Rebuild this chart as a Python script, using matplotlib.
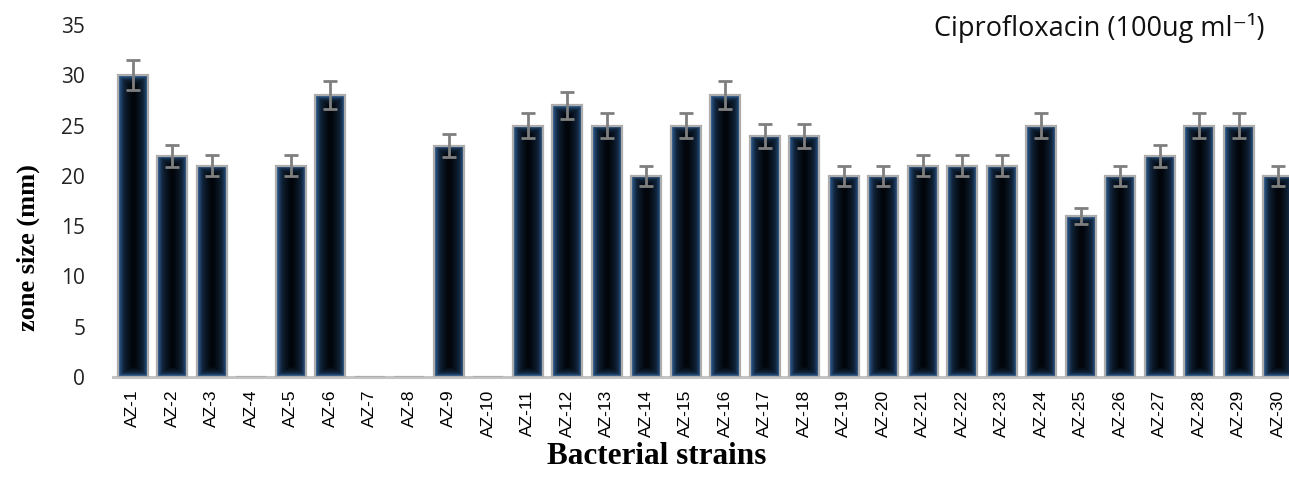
import numpy as np
import matplotlib
matplotlib.use("Agg")
import matplotlib.pyplot as plt
from matplotlib.colors import LinearSegmentedColormap

strains = ["AZ-%d" % i for i in range(1, 31)]
zone_size = [30, 22, 21, 0, 21, 28, 0, 0, 23, 0,
             25, 27, 25, 20, 25, 28, 24, 24, 20, 20,
             21, 21, 21, 25, 16, 20, 22, 25, 25, 20]
zone_err = [1.5, 1.1, 1.05, 0, 1.05, 1.4, 0, 0, 1.15, 0,
            1.25, 1.35, 1.25, 1.0, 1.25, 1.4, 1.2, 1.2, 1.0, 1.0,
            1.05, 1.05, 1.05, 1.25, 0.8, 1.0, 1.1, 1.25, 1.25, 1.0]
yticks = [0, 5, 10, 15, 20, 25, 30, 35]

W, H = 1289, 490
fig = plt.figure(figsize=(W / 100, H / 100), dpi=100)
ax = fig.add_axes([113 / W, (H - 377) / H, (1298 - 113) / W, (377 - 25) / H])

x = np.arange(len(strains))
bw = 0.76
cmap = LinearSegmentedColormap.from_list("g", ["#02050a", "#10243a", "#3366a0"])

bars = ax.bar(x, zone_size, width=bw, facecolor="none", edgecolor="#adadad",
              linewidth=1.6, zorder=3)
for b, h in zip(bars, zone_size):
    if h <= 0:
        continue
    nx, ny = 80, 400
    xs = np.abs(np.linspace(-1, 1, nx))
    hor = np.clip(xs, 0, 1) ** 1.5
    ys = np.linspace(0, h, ny)
    glow = 1.1
    ver_top = np.clip((ys - (h - glow)) / glow, 0, 1) ** 1.4
    ver_bot = np.clip((glow - ys) / glow, 0, 1) ** 1.4
    ver = np.maximum(ver_top, ver_bot)
    arr = np.maximum(hor[None, :], ver[:, None])
    im = ax.imshow(arr, cmap=cmap, vmin=0, vmax=1, origin="lower",
                   extent=[b.get_x(), b.get_x() + b.get_width(), 0, h],
                   aspect="auto", zorder=2, interpolation="bilinear")
    im.set_clip_path(b)

err_x = [xi for xi, v in zip(x, zone_size) if v > 0]
err_y = [v for v in zone_size if v > 0]
err_e = [e for e, v in zip(zone_err, zone_size) if v > 0]
ax.errorbar(err_x, err_y, yerr=err_e, fmt="none", ecolor="#7f7f7f",
            elinewidth=2, capsize=4.8, capthick=2, zorder=4)

ax.set_xlim(-0.5, len(strains) - 0.5)
ax.set_ylim(0, 35)
ax.set_yticks(yticks)
ax.set_yticklabels([str(t) for t in yticks], fontsize=15, family="Open Sans",
                   color="#222222")
ax.set_xticks(x)
ax.set_xticklabels(strains, rotation=90, fontsize=12.5, family="Liberation Sans",
                   va="top", ha="center")
ax.tick_params(axis="both", length=0)
ax.tick_params(axis="y", pad=20)
ax.tick_params(axis="x", pad=9)
for s in ["left", "right", "top"]:
    ax.spines[s].set_visible(False)
ax.spines["bottom"].set_color("#c4c4c4")
ax.spines["bottom"].set_linewidth(2.2)
ax.set_facecolor("none")

fig.text(1265 / W, 1 - 28 / H, "Ciprofloxacin (100ug ml⁻¹)", ha="right", va="center",
         fontsize=19.5, family=["Open Sans", "DejaVu Sans"], color="#111111")
fig.text(657 / W, 1 - 456 / H, "Bacterial strains", ha="center", va="center",
         fontsize=22.5, family="Liberation Serif", fontweight="bold")
fig.text(28 / W, 1 - 248 / H, "zone size (mm)", ha="center", va="center",
         rotation=90, fontsize=19, family="Liberation Serif", fontweight="bold")

fig.savefig("out.png", dpi=100)
